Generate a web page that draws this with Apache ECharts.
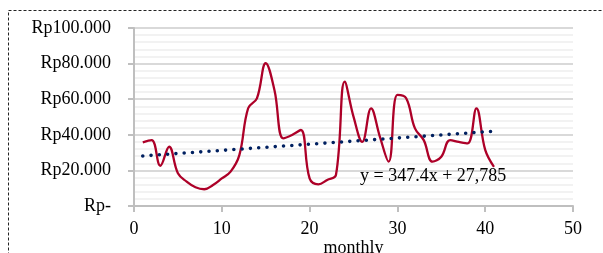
<!DOCTYPE html>
<html>
<head>
<meta charset="utf-8">
<script src="https://cdn.jsdelivr.net/npm/echarts@6/dist/echarts.min.js"></script>
<style>
html,body{margin:0;padding:0;background:#fff;}
#c{width:603px;height:253px;}
</style>
</head>
<body>
<div id="c"></div>
<script>
var months = [1,2,3,4,5,6,7,8,9,10,11,12,13,14,15,16,17,18,19,20,21,22,23,24,25,26,27,28,29,30,31,32,33,34,35,36,37,38,39,40,41];
var values = [35800,37000,22600,33300,18400,13700,10500,9400,11800,15500,19300,28600,54900,60500,80200,65000,38000,39900,42700,15500,12200,14600,17400,69900,50200,36000,54900,39000,24900,62400,60500,43600,37000,24900,27700,37000,36000,35200,54900,31500,22000];
var trendX = [1, 41];
var trendY = [28132, 42028];
var yTicks = [0, 20000, 40000, 60000, 80000, 100000];
var trendLabel = 'y = 347.4x + 27,785';

var FONT = "'Liberation Serif', 'Times New Roman', serif";
function fmt(v){
  if (v === 0) return 'Rp-';
  var s = String(Math.round(v));
  return 'Rp' + s.replace(/\B(?=(\d{3})+(?!\d))/g, '.');
}
var chart = echarts.init(document.getElementById('c'), null, {renderer:'canvas'});
chart.setOption({
  animation:false,
  backgroundColor:'#fff',
  grid:{left:134, right:30, top:28, bottom:47, containLabel:false, outerBoundsMode:'none'},
  xAxis:{
    type:'value', min:0, max:50, interval:10,
    name:'monthly', nameLocation:'middle', nameGap:33, nameMoveOverlap:false,
    nameTextStyle:{fontFamily:FONT, fontSize:18, color:'#000'},
    axisLine:{show:true, lineStyle:{color:'#bfbfbf', width:2}},
    axisTick:{show:true, length:6, lineStyle:{color:'#bfbfbf', width:2}},
    axisLabel:{fontFamily:FONT, fontSize:18, color:'#000', margin:14},
    splitLine:{show:false}
  },
  yAxis:{
    type:'value', min:0, max:100000, interval:20000,
    axisLine:{show:true, lineStyle:{color:'#bfbfbf', width:2}},
    axisTick:{show:true, length:6, lineStyle:{color:'#bfbfbf', width:2}},
    axisLabel:{fontFamily:FONT, fontSize:18, color:'#000', margin:23,
      formatter:function(v){ return yTicks.indexOf(v) >= 0 ? fmt(v) : ''; }},
    splitLine:{show:true, lineStyle:{color:'#d9d9d9', width:2}},
    minorTick:{show:false, splitNumber:5},
    minorSplitLine:{show:true, lineStyle:{color:'#eeeeee', width:1.5}}
  },
  series:[
    {
      type:'line', smooth:0.4, showSymbol:false, symbol:'none',
      data: months.map(function(m,i){ return [m, values[i]]; }),
      lineStyle:{color:'#ad0028', width:2.3},
      z:3
    },
    {
      type:'line', showSymbol:false, symbol:'none',
      data: trendX.map(function(x,i){ return [x, trendY[i]]; }),
      lineStyle:{color:'#002060', width:3.6, type:[0, 8.3], cap:'round'},
      z:4
    }
  ],
  graphic:[
    {type:'rect', silent:true, shape:{x:8.5, y:10.5, width:700, height:300},
      style:{fill:'none', stroke:'#222', lineWidth:1, lineDash:[3,2]}},
    {type:'text', left:360, top:167, z:10,
      style:{text:trendLabel, font:'18px ' + FONT, fill:'#000'}}
  ]
});
</script>
</body>
</html>
